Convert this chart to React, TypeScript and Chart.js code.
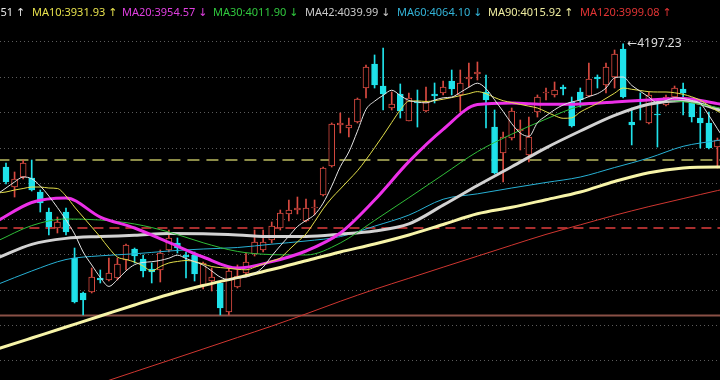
import React, { useEffect, useRef } from "react";
import { Chart, registerables } from "chart.js";

Chart.register(...registerables);

// ---------- data ----------
const DAYS = Array.from({ length: 84 }, (_, i) => i);

const OPEN = [
  4023.5, 3995.3, 4009.4, 4008.0, 3988.3, 3960.1, 3937.5, 3960.1, 3895.2, 3845.9,
  3847.3, 3867.0, 3864.2, 3867.0, 3892.4, 3907.9, 3893.8, 3879.7, 3878.3, 3906.5,
  3916.4, 3899.5, 3899.5, 3857.2, 3862.8, 3860.0, 3819.1, 3854.3, 3874.1, 3900.9,
  3906.5, 3920.6, 3937.5, 3957.3, 3962.9, 3947.4, 3965.7, 3984.1, 4024.9, 4082.8,
  4078.5, 4087.0, 4134.9, 4168.8, 4137.7, 4106.7, 4126.5, 4088.4, 4115.2, 4102.5,
  4126.5, 4127.9, 4144.8, 4125.1, 4147.6, 4154.7, 4129.3, 4079.9, 4043.3, 4064.4,
  4074.3, 4040.5, 4101.1, 4127.9, 4125.1, 4136.3, 4115.2, 4129.3, 4123.6, 4150.4,
  4139.2, 4150.4, 4189.9, 4087.0, 4109.5, 4085.6, 4098.3, 4111.0, 4122.2, 4133.5,
  4115.2, 4092.6, 4085.6, 4051.7,
];
const HIGH = [
  4029.2, 4016.5, 4033.4, 4033.4, 3991.1, 3965.7, 3953.0, 3965.7, 3909.3, 3847.3,
  3881.1, 3878.3, 3895.2, 3895.2, 3915.0, 3909.3, 3899.5, 3888.2, 3906.5, 3934.7,
  3923.4, 3903.7, 3903.7, 3889.6, 3881.1, 3861.4, 3881.1, 3885.4, 3902.3, 3934.7,
  3934.7, 3946.0, 3962.9, 3977.0, 3981.2, 3978.4, 3977.0, 4023.5, 4085.6, 4099.7,
  4092.6, 4120.8, 4167.4, 4181.5, 4191.3, 4129.3, 4140.6, 4127.9, 4132.1, 4136.3,
  4142.0, 4144.8, 4160.3, 4160.3, 4170.2, 4171.6, 4153.3, 4103.9, 4072.9, 4106.7,
  4089.8, 4094.0, 4125.1, 4134.9, 4143.4, 4139.2, 4122.2, 4134.9, 4170.2, 4153.3,
  4170.2, 4188.5, 4197.23, 4106.7, 4127.9, 4129.3, 4118.0, 4125.1, 4137.7, 4142.0,
  4120.8, 4108.1, 4101.1, 4064.4,
];
const LOW = [
  3999.6, 3981.2, 4006.6, 3989.7, 3960.1, 3927.7, 3930.5, 3927.7, 3831.8, 3814.9,
  3845.9, 3860.0, 3862.8, 3864.2, 3878.3, 3888.2, 3868.4, 3860.0, 3861.4, 3903.7,
  3902.3, 3867.0, 3862.8, 3851.5, 3848.7, 3814.9, 3814.9, 3852.9, 3868.4, 3898.0,
  3903.7, 3916.4, 3934.7, 3947.4, 3957.3, 3946.0, 3955.9, 3982.6, 4023.5, 4071.5,
  4065.8, 4085.6, 4120.8, 4134.9, 4103.9, 4103.9, 4092.6, 4088.4, 4079.9, 4101.1,
  4113.8, 4125.1, 4125.1, 4101.1, 4136.3, 4146.2, 4078.5, 4013.7, 4002.4, 4061.6,
  4047.5, 4030.6, 4094.0, 4118.0, 4122.2, 4125.1, 4079.9, 4108.1, 4122.2, 4134.9,
  4127.9, 4134.9, 4120.8, 4054.6, 4089.8, 4084.2, 4051.7, 4109.5, 4120.8, 4096.9,
  4087.0, 4050.3, 4048.9, 4022.1,
];
const CLOSE = [
  4002.4, 4006.6, 4029.2, 3991.1, 3972.8, 3938.9, 3946.0, 3931.9, 3833.2, 3836.0,
  3868.4, 3864.2, 3874.1, 3886.8, 3913.6, 3898.0, 3876.9, 3875.5, 3902.3, 3923.4,
  3909.3, 3896.6, 3872.7, 3888.2, 3868.4, 3824.7, 3876.9, 3869.8, 3889.6, 3917.8,
  3917.8, 3940.3, 3958.7, 3962.9, 3965.7, 3965.7, 3967.1, 4022.1, 4084.2, 4085.6,
  4082.8, 4119.4, 4164.5, 4139.2, 4126.5, 4112.4, 4102.5, 4120.8, 4113.8, 4115.2,
  4123.6, 4136.3, 4133.5, 4142.0, 4150.4, 4157.5, 4118.0, 4015.1, 4065.8, 4102.5,
  4077.1, 4065.8, 4122.2, 4129.3, 4132.1, 4133.5, 4081.3, 4118.0, 4147.6, 4147.6,
  4164.5, 4182.9, 4122.2, 4082.8, 4108.1, 4125.1, 4096.9, 4122.2, 4134.9, 4127.9,
  4094.0, 4085.6, 4050.3, 4061.6,
];

// moving averages, read per day (day -1 .. 84)
const MA_DAYS = Array.from({ length: 86 }, (_, i) => i - 1);
const MA5 = [
  3985.5, 3993.9, 4002.4, 4009.4, 4007.0, 3996.7, 3982.6, 3966.3, 3948.8, 3929.1,
  3903.7, 3885.4, 3867.9, 3855.2, 3864.8, 3877.0, 3885.8, 3888.9, 3890.0, 3891.8,
  3894.9, 3899.2, 3894.5, 3890.0, 3885.2, 3876.9, 3868.3, 3864.8, 3867.6, 3868.4,
  3873.4, 3882.5, 3898.0, 3912.4, 3926.0, 3939.5, 3948.1, 3956.3, 3972.6, 3996.5,
  4024.0, 4044.7, 4074.0, 4104.6, 4116.3, 4124.6, 4131.8, 4124.3, 4117.4, 4115.2,
  4113.9, 4117.9, 4121.1, 4122.1, 4128.7, 4136.0, 4141.7, 4133.9, 4118.3, 4101.8,
  4084.7, 4071.3, 4066.7, 4085.9, 4095.6, 4104.2, 4111.0, 4115.2, 4118.0, 4122.9,
  4126.9, 4134.9, 4149.2, 4150.4, 4138.6, 4130.3, 4122.1, 4113.9, 4117.2, 4121.1,
  4120.1, 4117.3, 4113.3, 4096.4, 4077.5, 4058.8,
];
const MA10 = [
  3986.9, 3988.3, 3991.1, 3993.2, 3995.3, 3995.3, 3993.9, 3993.2, 3982.6, 3967.1,
  3953.0, 3938.9, 3924.8, 3909.3, 3896.6, 3893.1, 3889.6, 3883.9, 3876.9, 3883.2,
  3888.2, 3890.3, 3891.7, 3890.3, 3886.8, 3883.2, 3881.7, 3880.6, 3879.3, 3878.6,
  3882.1, 3886.6, 3891.0, 3895.2, 3906.6, 3917.9, 3929.2, 3946.3, 3964.5, 3979.8,
  3992.5, 4005.3, 4018.2, 4033.8, 4050.7, 4068.1, 4086.3, 4103.9, 4116.3, 4116.7,
  4115.9, 4117.0, 4119.1, 4121.4, 4124.2, 4127.0, 4129.8, 4126.9, 4121.5, 4117.0,
  4114.5, 4111.8, 4109.3, 4106.7, 4101.5, 4096.0, 4092.2, 4092.8, 4101.1, 4107.3,
  4113.2, 4120.3, 4127.6, 4134.9, 4133.1, 4131.4, 4129.7, 4129.3, 4129.3, 4128.2,
  4126.0, 4122.5, 4117.7, 4110.0, 4102.2, 4096.9,
];

// slower averages, read every 4th day
const MA_SPARSE_DAYS = [-1, 3, 7, 11, 15, 19, 23, 27, 31, 35, 39, 43, 47, 51, 55, 59, 63, 67, 71, 75, 79, 83, 84];
const MA20 = [3947.4, 3973.5, 3979.8, 3953.0, 3937.5, 3917.1, 3896.6, 3881.1, 3890.1, 3905.1, 3930.5, 3977.0, 4031.1, 4076.7, 4111.5, 4113.8, 4111.9, 4112.4, 4115.2, 4118.0, 4120.1, 4112.9, 4111.0];
const MA30 = [3919.2, 3940.9, 3950.2, 3948.8, 3943.2, 3931.9, 3916.7, 3904.5, 3900.0, 3899.5, 3916.4, 3948.1, 3980.2, 4012.8, 4045.1, 4069.8, 4091.1, 4109.5, 4114.5, 4117.7, 4115.6, 4107.4, 4105.0];
const MA42 = [3895.2, 3914.5, 3922.9, 3925.5, 3927.2, 3929.6, 3929.3, 3927.8, 3925.4, 3925.7, 3928.8, 3933.2, 3943.2, 3969.7, 3997.4, 4023.8, 4050.6, 4074.3, 4096.4, 4112.1, 4117.3, 4105.0, 4101.1];
const MA60 = [3857.9, 3876.9, 3893.1, 3898.3, 3901.1, 3905.1, 3907.9, 3910.0, 3914.7, 3919.2, 3925.4, 3940.1, 3955.7, 3978.1, 3985.7, 3993.9, 4001.7, 4009.4, 4022.8, 4036.2, 4052.7, 4060.9, 4063.0];
const MA90 = [3766.9, 3782.4, 3797.9, 3813.4, 3829.0, 3843.8, 3856.4, 3867.6, 3878.9, 3891.3, 3903.7, 3915.0, 3927.7, 3942.5, 3957.5, 3966.7, 3977.4, 3988.3, 4003.1, 4015.5, 4022.1, 4023.5, 4023.5];
const MA120 = [3670.3, 3686.5, 3702.5, 3718.7, 3734.8, 3750.8, 3766.9, 3783.1, 3799.2, 3816.4, 3834.2, 3851.0, 3866.6, 3882.3, 3897.8, 3913.3, 3928.5, 3942.0, 3955.4, 3967.7, 3979.0, 3990.3, 3992.8];

// horizontal reference levels
const LEVEL_OLIVE = 4033.4;
const LEVEL_RED = 3937.5;
const LEVEL_FLOOR = 3814.0;

// header legend
const LEGEND_LABELS = ["MA5", "MA10", "MA20", "MA30", "MA42", "MA60", "MA90", "MA120"];
const LEGEND_VALUES = ["3921.51", "3931.93", "3954.57", "4011.90", "4039.99", "4064.10", "4015.92", "3999.08"];
const LEGEND_TRENDS = ["↑", "↑", "↓", "↓", "↓", "↓", "↑", "↑"];

// ---------- styles ----------
const UP = "#d94a40";
const DOWN = "#1fe2ea";
const MA_COLORS = {
  MA5: "#e4e4e4",
  MA10: "#e3df4a",
  MA20: "#ec2fe8",
  MA30: "#2fbd38",
  MA42: "#d2d2d2",
  MA60: "#27b0d4",
  MA90: "#f7f4a8",
  MA120: "#cf3630",
};
const LEGEND_COLORS = ["#e6e6e6", "#e6e04c", "#e03fe0", "#30c83e", "#cacaca", "#33b4d8", "#efeda0", "#e23434"];
const LEGEND_X = [13, 32, 122, 213, 305, 397, 488, 580];

const Y_MIN = 3723.2;
const Y_MAX = 4259;
const X_MIN = -0.7;
const X_MAX = 83.3;

function lineDataset(label: string, days: number[], values: number[], color: string, width: number, order: number) {
  return {
    type: "line" as const,
    label,
    data: days.map((d, k) => ({ x: d, y: values[k] })),
    borderColor: color,
    borderWidth: width,
    pointRadius: 0,
    fill: false,
    cubicInterpolationMode: "monotone" as const,
    order,
  };
}

function levelDataset(label: string, value: number, color: string, width: number, dash: number[]) {
  return {
    type: "line" as const,
    label,
    data: [
      { x: -1, y: value },
      { x: 84, y: value },
    ],
    borderColor: color,
    borderWidth: width,
    borderDash: dash,
    pointRadius: 0,
    fill: false,
    order: 30,
  };
}

const overlayPlugin = {
  id: "overlay",
  beforeDraw(chart: any) {
    const { ctx, width, height } = chart;
    ctx.save();
    ctx.fillStyle = "#000";
    ctx.fillRect(0, 0, width, height);
    ctx.restore();
  },
  afterDraw(chart: any) {
    const ctx = chart.ctx;
    ctx.save();
    ctx.font = '11px "Noto Sans", "DejaVu Sans", sans-serif';
    ctx.textBaseline = "middle";
    ctx.textAlign = "left";
    LEGEND_LABELS.forEach((lab, k) => {
      const text = `${lab}:${LEGEND_VALUES[k]}`;
      const w = ctx.measureText(text).width;
      const x0 = k === 0 ? LEGEND_X[0] - w : LEGEND_X[k];
      ctx.fillStyle = LEGEND_COLORS[k];
      ctx.fillText(text, x0, 13);
      ctx.fillText(LEGEND_TRENDS[k], x0 + w + 3, 13);
    });
    // peak annotation
    let peak = 0;
    HIGH.forEach((h, i) => {
      if (h > HIGH[peak]) peak = i;
    });
    const xs = chart.scales.x;
    const ys = chart.scales.y;
    const px = xs.getPixelForValue(DAYS[peak]) + 4;
    const py = ys.getPixelForValue(HIGH[peak]);
    ctx.font = '12px "Noto Sans", "DejaVu Sans", sans-serif';
    ctx.fillStyle = "#dcdcdc";
    ctx.fillText("←" + HIGH[peak].toFixed(2), px, py);
    ctx.restore();
  },
};

export default function App() {
  const canvasRef = useRef<HTMLCanvasElement | null>(null);

  useEffect(() => {
    document.body.style.margin = "0";
    document.body.style.background = "#000";
    const canvas = canvasRef.current;
    if (!canvas) return;

    const up = DAYS.map((i) => CLOSE[i] >= OPEN[i]);

    const chart = new Chart(canvas, {
      type: "bar",
      data: {
        datasets: [
          levelDataset("floor", LEVEL_FLOOR, "#8a5046", 2, []),
          levelDataset("red level", LEVEL_RED, "#a82e2e", 2, [10, 6]),
          levelDataset("olive level", LEVEL_OLIVE, "#8c8c48", 2, [12, 7]),
          {
            type: "bar" as const,
            label: "wick",
            data: DAYS.map((i) => ({ x: i, y: [LOW[i], HIGH[i]] })),
            backgroundColor: DAYS.map((i) => (up[i] ? UP : DOWN)),
            borderWidth: 0,
            barThickness: 1,
            grouped: false,
            order: 21,
          } as any,
          {
            type: "bar" as const,
            label: "body",
            data: DAYS.map((i) => ({ x: i, y: [OPEN[i], CLOSE[i]] })),
            backgroundColor: DAYS.map((i) => (up[i] ? "#000000" : DOWN)),
            borderColor: DAYS.map((i) => (up[i] ? UP : DOWN)),
            borderWidth: 1,
            borderSkipped: false,
            barThickness: 6,
            minBarLength: 1,
            grouped: false,
            order: 20,
          } as any,
          lineDataset("MA120", MA_SPARSE_DAYS, MA120, MA_COLORS.MA120, 1, 10),
          lineDataset("MA90", MA_SPARSE_DAYS, MA90, MA_COLORS.MA90, 3, 9),
          lineDataset("MA60", MA_SPARSE_DAYS, MA60, MA_COLORS.MA60, 1, 8),
          lineDataset("MA42", MA_SPARSE_DAYS, MA42, MA_COLORS.MA42, 3, 7),
          lineDataset("MA30", MA_SPARSE_DAYS, MA30, MA_COLORS.MA30, 1, 6),
          lineDataset("MA20", MA_SPARSE_DAYS, MA20, MA_COLORS.MA20, 3, 5),
          lineDataset("MA10", MA_DAYS, MA10, MA_COLORS.MA10, 1, 4),
          lineDataset("MA5", MA_DAYS, MA5, MA_COLORS.MA5, 1, 3),
        ] as any,
      },
      options: {
        animation: false,
        responsive: false,
        events: [],
        layout: { padding: 0 },
        plugins: {
          legend: { display: false },
          tooltip: { enabled: false },
          title: { display: false },
        },
        scales: {
          x: {
            type: "linear",
            min: X_MIN,
            max: X_MAX,
            offset: false,
            display: false,
          },
          y: {
            type: "linear",
            min: Y_MIN,
            max: Y_MAX,
            position: "left",
            ticks: { display: false, stepSize: 50, maxTicksLimit: 20 },
            grid: {
              drawTicks: false,
              lineWidth: 1,
              color: (ctx: any) =>
                ctx.tick && Math.abs(ctx.tick.value % 50) < 0.01 ? "#5c5c5c" : "rgba(0,0,0,0)",
            },
            border: { display: false, dash: [1, 3] },
            afterFit: (scale: any) => {
              scale.width = 0;
            },
          },
        },
      } as any,
      plugins: [overlayPlugin],
    });

    return () => chart.destroy();
  }, []);

  return (
    <div style={{ width: 720, height: 380, background: "#000", position: "relative" }}>
      <canvas ref={canvasRef} width={720} height={380} style={{ display: "block" }} />
    </div>
  );
}
